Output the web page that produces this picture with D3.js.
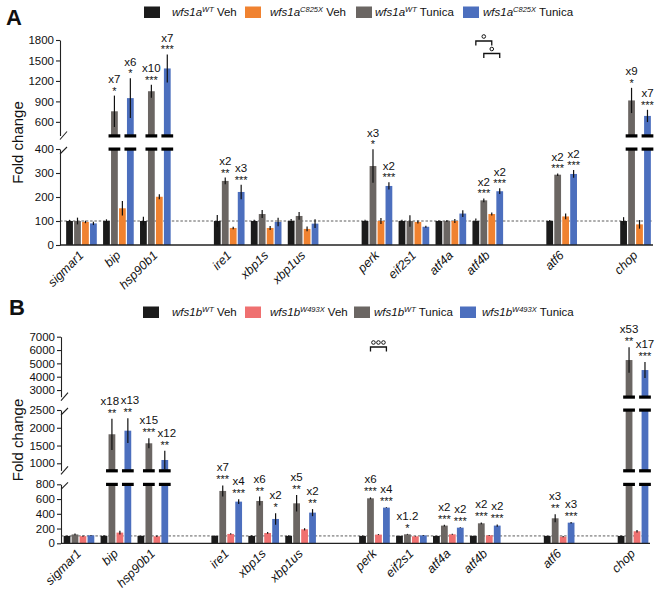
<!DOCTYPE html>
<html><head><meta charset="utf-8">
<script src="https://cdn.jsdelivr.net/npm/d3@7"></script>
<style>body{margin:0;background:#fff} svg{display:block;font-family:"Liberation Sans",Arial,sans-serif}</style>
</head><body><svg id="c" width="666" height="593"></svg>
<script>
// ---------- data ----------
const genes = ["sigmar1","bip","hsp90b1","ire1","xbp1s","xbp1us","perk","eif2s1","atf4a","atf4b","atf6","chop"];
const pathways = [["sigmar1","bip","hsp90b1"],["ire1","xbp1s","xbp1us"],["perk","eif2s1","atf4a","atf4b"],["atf6"],["chop"]];

// Panel A (wfs1a)
const aWtVeh   = [100,100,100,100,100,100,100,100,100,100,100,100];
const aWtTun   = [100,755,1049,267,129,121,329,100,100,186,293,914];
const aMutVeh  = [96,153,201,71,71,67,100,96,100,129,119,86];
const aMutTun  = [90,948,1383,221,96,89,246,76,131,224,296,687];
const aWtVehErr  = [5,7,18,25,5,8,5,5,3,10,4,16];
const aWtTunErr  = [14,230,95,14,17,16,70,24,4,8,5,185];
const aMutVehErr = [5,30,10,5,8,10,12,6,8,6,12,18];
const aMutTunErr = [7,290,205,30,18,18,15,4,14,12,16,90];
const aFoldWT  = ["","x7","x10","x2","","","x3","","","x2","x2","x9"];
const aStarWT  = ["","*","***","**","","","*","","","***","***","*"];
const aFoldMut = ["","x6","x7","x3","","","x2","","","x2","x2","x7"];
const aStarMut = ["","*","***","***","","","***","","","***","***","***"];
const aSegments = [[0,400],[400,1800]];
const aTicks = [[0,100,200,300,400],[600,900,1200,1500,1800]];

// Panel B (wfs1b)
const bWtVeh   = [100,100,100,100,100,100,100,100,100,100,100,100];
const bWtTun   = [120,1817,1563,710,574,542,610,122,240,271,339,5250];
const bMutVeh  = [97,145,95,127,140,190,118,95,122,108,90,163];
const bMutTun  = [108,1918,1093,565,330,416,484,108,212,240,280,4500];
const bWtVehErr  = [5,12,5,5,8,8,5,3,3,3,3,5];
const bWtTunErr  = [12,440,140,75,60,112,12,6,12,12,55,950];
const bMutVehErr = [8,25,10,8,12,15,6,4,6,6,8,18];
const bMutTunErr = [5,350,260,32,77,48,5,4,6,15,10,600];
const bFoldWT  = ["","x18","x15","x7","x6","x5","x6","x1.2","x2","x2","x3","x53"];
const bStarWT  = ["","**","***","***","**","**","***","*","***","***","**","**"];
const bFoldMut = ["","x13","x12","x4","x2","x2","x4","","x2","x2","x3","x17"];
const bStarMut = ["","**","**","***","*","**","***","","***","***","***","***"];
const bSegments = [[0,800],[800,2500],[2500,7000]];
const bTicks = [[0,200,400,600,800],[1000,1500,2000,2500],[3000,4000,5000,6000,7000]];

// ---------- layout ----------
const svg = d3.select("#c");
const slotOf = {}; let slot = 0;
pathways.forEach((p,i)=>{ if(i>0) slot++; p.forEach(g=>{ slotOf[g]=slot; slot++; }); });
const nSlots = slot;

function overlap(a,b){
  return !(a.x+a.width <= b.x || b.x+b.width <= a.x || a.y+a.height <= b.y || b.y+b.height <= a.y);
}

function drawPanel(cfg){
  const g = svg.append("g");
  const x = d3.scaleBand().domain(d3.range(nSlots)).range(cfg.xRange).paddingInner(0.17).paddingOuter(0.085);
  const xs = d3.scaleBand().domain(d3.range(4)).range([0, x.bandwidth()]).paddingInner(0.15);
  const scales = cfg.segments.map((s,i)=>d3.scaleLinear().domain(s).range(cfg.segPx[i]));
  const ax = cfg.axisX;

  scales.forEach((sc,i)=>{
    const a = g.append("g").attr("transform",`translate(${ax},0)`)
      .call(d3.axisLeft(sc).tickValues(cfg.ticks[i]).tickSizeInner(4).tickSizeOuter(0).tickPadding(2).tickFormat(d3.format("d")));
    a.select(".domain").attr("stroke","#222").attr("stroke-width",1.1);
    a.selectAll(".tick line").attr("stroke","#222").attr("stroke-width",1.1);
    a.selectAll(".tick text").attr("font-size",11.5).attr("fill","#111").attr("font-family","Liberation Sans, Arial, sans-serif");
    const r = sc.range();
    if(i < scales.length-1) g.append("line").attr("x1",ax).attr("y1",r[1]+5).attr("x2",ax+7).attr("y2",r[1]-2).attr("stroke","#222").attr("stroke-width",1.1);
    if(i > 0) g.append("line").attr("x1",ax).attr("y1",r[0]+4).attr("x2",ax+7).attr("y2",r[0]-4).attr("stroke","#222").attr("stroke-width",1.1);
  });

  g.append("text").attr("transform",`translate(23,${(cfg.segPx[0][0]+cfg.segPx[cfg.segPx.length-1][1])/2}) rotate(-90)`)
    .attr("text-anchor","middle").attr("font-size",15).attr("fill","#111").text("Fold change");

  const y100 = scales[0](100);
  g.append("line").attr("x1",ax).attr("x2",cfg.xEnd).attr("y1",y100).attr("y2",y100)
    .attr("stroke","#333").attr("stroke-width",0.8).attr("stroke-dasharray","2.5,1.8");

  const bw = xs.bandwidth();
  const annG = g.append("g");
  genes.forEach((gn,gi)=>{
    const x0 = x(slotOf[gn]);
    const folds = [], stars = [];
    cfg.values.forEach((vals,si)=>{
      const v = vals[gi], e = cfg.errs[si][gi];
      const bx = x0 + xs(si);
      let segIdx = 0;
      cfg.segments.forEach((seg,k)=>{
        if(v <= seg[0]) return;
        const top = Math.min(v, seg[1]);
        const sc = scales[k];
        g.append("rect").attr("x",bx).attr("width",bw).attr("y",sc(top)).attr("height",sc(seg[0])-sc(top)).attr("fill",cfg.colors[si]);
        if(v > seg[1]) g.append("rect").attr("x",bx-2.5).attr("width",bw+5).attr("y",sc(seg[1])-1.5).attr("height",3.2).attr("fill","#000");
        if(k > 0) g.append("rect").attr("x",bx-2.5).attr("width",bw+5).attr("y",sc(seg[0])-1.2).attr("height",3.2).attr("fill","#000");
        if(v <= seg[1] || k===cfg.segments.length-1) segIdx = k;
      });
      const sc = scales[segIdx];
      const lo = Math.max(v-e, cfg.segments[segIdx][0]);
      g.append("line").attr("x1",bx+bw/2).attr("x2",bx+bw/2).attr("y1",sc(lo)).attr("y2",sc(v+e))
        .attr("stroke","#111").attr("stroke-width",1.2);
      const ann = si===1 ? [cfg.foldWT[gi], cfg.starWT[gi]] : si===3 ? [cfg.foldMut[gi], cfg.starMut[gi]] : null;
      if(ann){
        const yt = sc(v+e);
        if(ann[1]) stars.push(annG.append("text").attr("x",bx+bw/2).attr("y",yt+cfg.starDy).attr("text-anchor","middle").attr("font-size",11).attr("fill","#111").text(ann[1]));
        if(ann[0]) folds.push(annG.append("text").attr("x",bx+bw/2).attr("y",yt+cfg.foldDy).attr("text-anchor","middle").attr("font-size",11.5).attr("fill","#111").text(ann[0]));
      }
    });
    // separate overlapping fold labels of the same gene
    const all = folds.concat(stars);
    for(let i=0;i<folds.length;i++) for(let j=0;j<all.length;j++){
      const A = folds[i], B = all[j];
      if(A===B) continue;
      const ba = A.node().getBBox(), bb = B.node().getBBox();
      if(overlap(ba,bb) && Math.abs(ba.y-bb.y) < Math.min(ba.height,bb.height)*0.9){
        const d = (ba.x < bb.x) ? (ba.x+ba.width - bb.x) + 1.5 : -((bb.x+bb.width - ba.x) + 1.5);
        A.attr("x", +A.attr("x") - d/2);
        if(folds.includes(B)) B.attr("x", +B.attr("x") + d/2);
        else A.attr("x", +A.attr("x") - d/2);
      }
    }
    g.append("text").attr("transform",`translate(${x0 + x.bandwidth()/2 + 3},${cfg.segPx[0][0]+11}) rotate(-45)`)
      .attr("text-anchor","end").attr("font-size",12.5).attr("font-style","italic").attr("fill","#111").text(gn);
  });

  g.append("line").attr("x1",ax).attr("x2",cfg.xEnd).attr("y1",scales[0](0)).attr("y2",scales[0](0)).attr("stroke","#222").attr("stroke-width",1.3);

  cfg.brackets.forEach(b=>{
    const x0 = x(slotOf[b.gene]);
    const xa = x0 + xs(b.from) + bw/2, xb = x0 + xs(b.to) + bw/2;
    g.append("path").attr("d",`M${xa},${b.y+4.5}V${b.y}H${xb}V${b.y+4.5}`).attr("fill","none").attr("stroke","#111").attr("stroke-width",1.3);
    const cx = (xa+xb)/2;
    for(let k=0;k<b.n;k++){
      g.append("circle").attr("cx",cx+(k-(b.n-1)/2)*5).attr("cy",b.y-4.5).attr("r",1.8).attr("fill","none").attr("stroke","#111").attr("stroke-width",1);
    }
  });

  cfg.legendOrder.forEach((si,k)=>{
    g.append("rect").attr("x",cfg.legendSwX[k]).attr("y",cfg.legendY).attr("width",16).attr("height",11.5).attr("fill",cfg.colors[si]);
    const t = g.append("text").attr("x",cfg.legendTxX[k]).attr("y",cfg.legendY+9.5).attr("font-size",11.5).attr("fill","#111");
    t.append("tspan").attr("font-style","italic").text(cfg.gene);
    t.append("tspan").attr("font-style","italic").attr("font-size",7.5).attr("dy",-4.5).text(cfg.alleles[si]);
    t.append("tspan").attr("dy",4.5).text(" " + cfg.treat[si]);
  });

  g.append("text").attr("x",cfg.letterX).attr("y",cfg.letterY).attr("font-size",22).attr("font-weight","bold").attr("fill","#111").text(cfg.letter);
}

drawPanel({
  letter:"A", letterX:6, letterY:25,
  gene:"wfs1a", alleles:["WT","WT","C825X","C825X"], treat:["Veh","Tunica","Veh","Tunica"],
  values:[aWtVeh,aWtTun,aMutVeh,aMutTun], errs:[aWtVehErr,aWtTunErr,aMutVehErr,aMutTunErr],
  foldWT:aFoldWT, starWT:aStarWT, foldMut:aFoldMut, starMut:aStarMut,
  segments:aSegments, ticks:aTicks, segPx:[[245,149],[135.5,40]],
  colors:["#1b1b1b","#6b6663","#f08230","#4c6fbe"],
  xRange:[63,654], axisX:60, xEnd:653,
  starDy:-1, foldDy:-12.5,
  brackets:[{gene:"atf4b",from:0,to:2,y:41,n:1},{gene:"atf4b",from:1,to:3,y:53.5,n:1}],
  legendOrder:[0,2,1,3], legendSwX:[144,245,356,463], legendTxX:[172,270,375,483], legendY:6.5
});

drawPanel({
  letter:"B", letterX:9, letterY:315,
  gene:"wfs1b", alleles:["WT","WT","W493X","W493X"], treat:["Veh","Tunica","Veh","Tunica"],
  values:[bWtVeh,bWtTun,bMutVeh,bMutTun], errs:[bWtVehErr,bWtTunErr,bMutVehErr,bMutTunErr],
  foldWT:bFoldWT, starWT:bStarWT, foldMut:bFoldMut, starMut:bStarMut,
  segments:bSegments, ticks:bTicks, segPx:[[543.3,484.3],[470.4,410],[396.7,336.7]],
  colors:["#1b1b1b","#6b6663","#ef7070","#4c6fbe"],
  xRange:[60.5,651.5], axisX:61, xEnd:650,
  starDy:-2, foldDy:-14,
  brackets:[{gene:"perk",from:1,to:3,y:347,n:3}],
  legendOrder:[0,2,1,3], legendSwX:[143,245,354,460], legendTxX:[172,270,374,482], legendY:306.5
});
</script></body></html>
